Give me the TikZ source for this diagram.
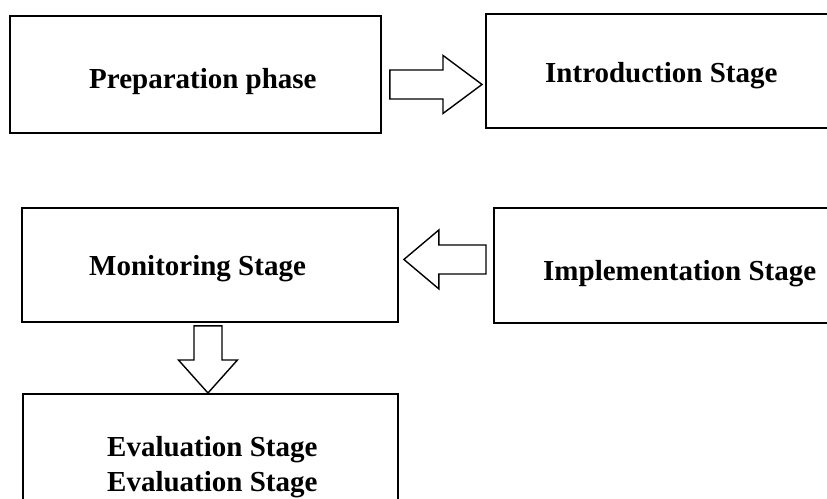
\documentclass[tikz,border=0pt]{standalone}
\usepackage{fontspec}
\setmainfont{Liberation Serif}
\usetikzlibrary{calc}
\begin{document}
\begin{tikzpicture}[x=1pt,y=-1pt,
  stagebox/.style={draw=black,line width=1.9pt,rectangle,inner sep=0pt,anchor=north west},
  stagetext/.style={inner sep=0pt,anchor=base west,font=\bfseries\fontsize{29}{35}\selectfont},
  blk/.style={draw=black,line width=1.4pt,line join=miter,fill=white}]
\useasboundingbox (0,0) rectangle (827,498);
\clip (0,0) rectangle (827,498);
% boxes
\node[stagebox,minimum width=371pt,minimum height=117pt] (P) at (9,15) {};
\node[stagebox,minimum width=380pt,minimum height=114pt] (I) at (485,13) {};
\node[stagebox,minimum width=376pt,minimum height=114pt] (M) at (21,207) {};
\node[stagebox,minimum width=380pt,minimum height=115pt] (IM) at (493,207) {};
\node[stagebox,minimum width=375pt,minimum height=130pt] (E) at (22,393) {};
% texts
\node[stagetext] (Pt) at (89,88) {Preparation phase};
\node[stagetext] (It) at (545,82) {Introduction Stage};
\node[stagetext] (Mt) at (89,275) {Monitoring Stage};
\node[stagetext] (IMt) at (543,280) {Implementation Stage};
\node[stagetext] (Et1) at (107,456) {Evaluation Stage};
\node[stagetext] (Et2) at (107,491) {Evaluation Stage};
% block arrows
\coordinate (a1s) at ($(P.east)+(8,10)$);
\coordinate (a1e) at ($(I.west)+(-3,14)$);
\draw[blk] let \p1=(a1s), \p2=(a1e) in
  (\x1,\y1+14.5pt) -- (\x2-39pt,\y1+14.5pt) -- (\x2-39pt,\y1+29pt) -- (\x2,\y1)
  -- (\x2-39pt,\y1-29pt) -- (\x2-39pt,\y1-14.5pt) -- (\x1,\y1-14.5pt) -- cycle;
\coordinate (a2s) at ($(IM.west)+(-7,-6)$);
\coordinate (a2e) at ($(M.east)+(5,-5)$);
\draw[blk] let \p1=(a2s), \p2=(a2e) in
  (\x1,\y1+14.5pt) -- (\x2+35pt,\y1+14.5pt) -- (\x2+35pt,\y1+29.5pt) -- (\x2,\y1)
  -- (\x2+35pt,\y1-29.5pt) -- (\x2+35pt,\y1-14.5pt) -- (\x1,\y1-14.5pt) -- cycle;
\coordinate (a3s) at ($(M.south)+(-2,3)$);
\coordinate (a3e) at ($(E.north)+(-2.5,0)$);
\draw[blk] let \p1=(a3s), \p2=(a3e) in
  (\x1-14pt,\y1) -- (\x1-14pt,\y2+33pt) -- (\x1-29.5pt,\y2+33pt) -- (\x1,\y2)
  -- (\x1+29.5pt,\y2+33pt) -- (\x1+14pt,\y2+33pt) -- (\x1+14pt,\y1) -- cycle;
\end{tikzpicture}
\end{document}
